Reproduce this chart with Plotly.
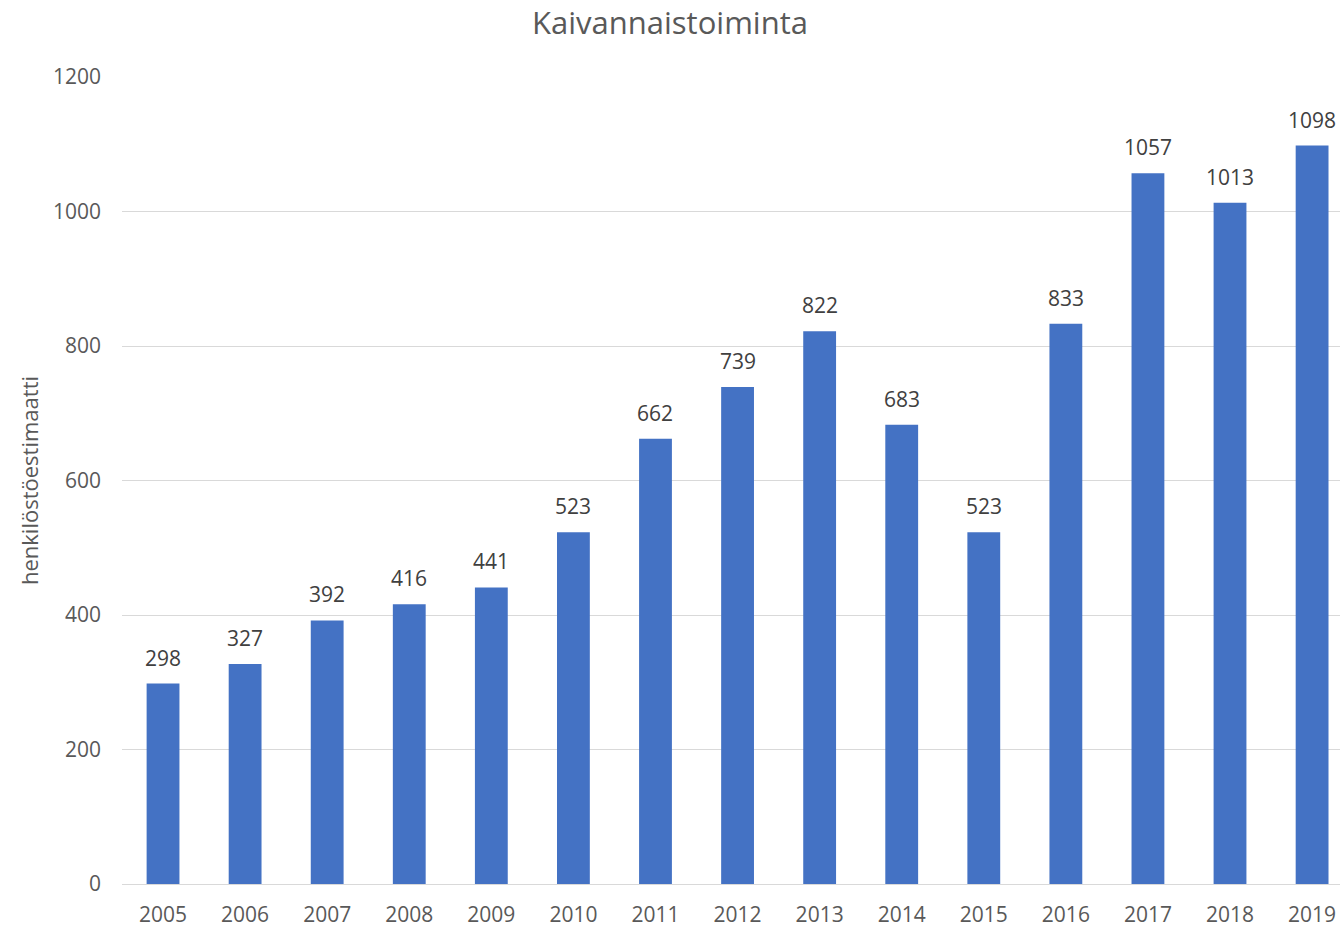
import plotly.graph_objects as go

# Data
years = ["2005", "2006", "2007", "2008", "2009", "2010", "2011", "2012",
         "2013", "2014", "2015", "2016", "2017", "2018", "2019"]
employees = [298, 327, 392, 416, 441, 523, 662, 739, 822, 683, 523, 833, 1057, 1013, 1098]
y_ticks = [0, 200, 400, 600, 800, 1000, 1200]

text_color = "#595959"
font_family = "Open Sans, Liberation Sans, sans-serif"

fig = go.Figure()

fig.add_trace(go.Bar(
    x=years,
    y=employees,
    marker=dict(color="#4472C4", line=dict(width=0)),
    width=0.4,
    hoverinfo="x+y",
))

# value labels above each bar (category axis -> use the category index)
for i, v in enumerate(employees):
    fig.add_annotation(
        x=i, y=v, text=str(v), showarrow=False,
        xanchor="center", yanchor="bottom", yshift=10,
        font=dict(size=21, color="#404040", family=font_family),
    )

fig.update_layout(
    title=dict(text="Kaivannaistoiminta", x=0.5, xanchor="center", y=0.975, yanchor="middle",
               font=dict(size=31, color=text_color, family=font_family)),
    width=1340,
    height=928,
    margin=dict(l=122, r=0, t=77, b=44),
    plot_bgcolor="white",
    paper_bgcolor="white",
    showlegend=False,
    xaxis=dict(
        type="category",
        range=[-0.5, 14.34],
        showgrid=False,
        showline=True,
        linecolor="#d9d9d9",
        linewidth=1,
        ticks="",
        ticklabelstandoff=12,
        tickfont=dict(size=21, color=text_color, family=font_family),
    ),
    yaxis=dict(
        range=[0, 1200],
        tickvals=y_ticks,
        showgrid=True,
        gridcolor="#d9d9d9",
        gridwidth=1,
        zeroline=False,
        ticks="",
        tickfont=dict(size=21, color=text_color, family=font_family),
        ticklabelstandoff=20,
        title=dict(text="henkilöstöestimaatti", standoff=8,
                   font=dict(size=22, color=text_color, family=font_family)),
    ),
)

# drop the default page margin so the figure fills the window exactly
fig.write_html("out.html",
               config={"displayModeBar": False},
               post_script="document.body.style.margin='0';document.body.style.overflow='hidden';")
